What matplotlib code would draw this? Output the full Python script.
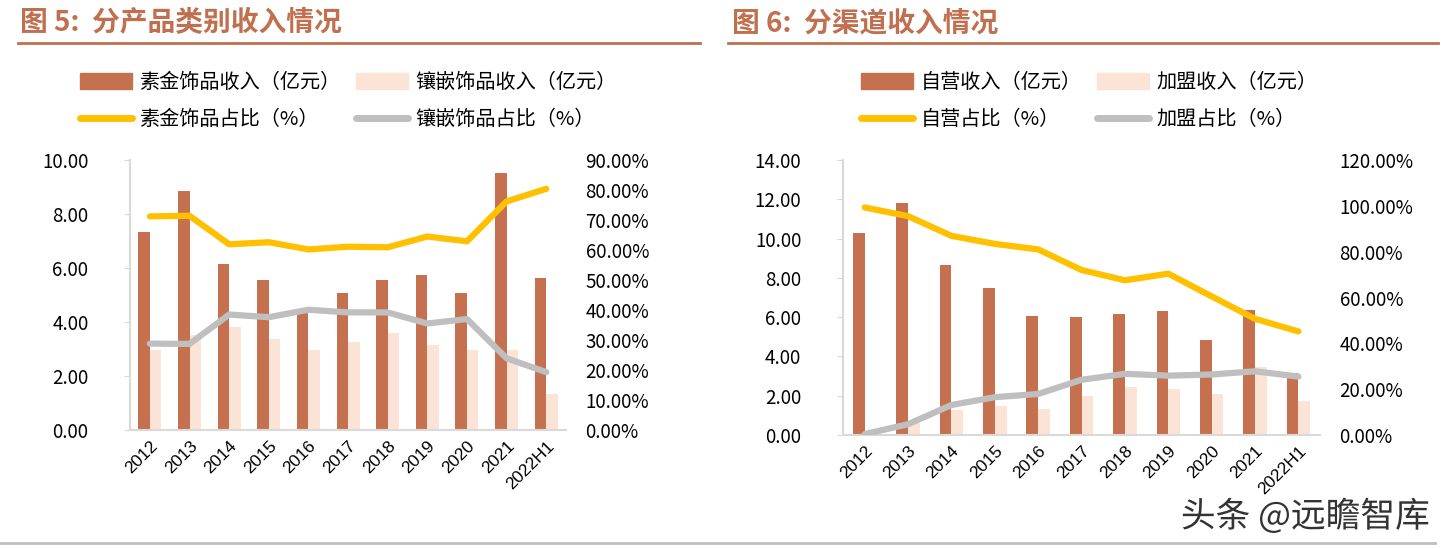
import matplotlib
matplotlib.use("Agg")
import matplotlib.pyplot as plt
from matplotlib.patches import Patch
from matplotlib.lines import Line2D
import matplotlib.patheffects as pe
import numpy as np

plt.rcParams["font.family"] = ["Noto Sans CJK SC", "DejaVu Sans"]

years = ["2012", "2013", "2014", "2015", "2016", "2017", "2018", "2019", "2020", "2021", "2022H1"]

# 图5 分产品类别
plain_rev = [7.35, 8.84, 6.15, 5.57, 4.45, 5.08, 5.55, 5.75, 5.06, 9.53, 5.64]
inlay_rev = [2.96, 3.52, 3.82, 3.36, 2.96, 3.25, 3.60, 3.15, 2.96, 2.96, 1.33]
plain_pct = [71.2, 71.4, 61.9, 62.6, 60.2, 61.1, 60.9, 64.5, 62.9, 76.2, 80.4]
inlay_pct = [28.8, 28.7, 38.5, 37.6, 40.1, 39.2, 39.2, 35.5, 37.0, 23.9, 19.3]

# 图6 分渠道
own_rev = [10.26, 11.80, 8.67, 7.48, 6.05, 5.99, 6.17, 6.29, 4.85, 6.34, 3.16]
fran_rev = [0.05, 0.60, 1.29, 1.46, 1.34, 1.97, 2.43, 2.33, 2.11, 3.45, 1.75]
own_pct = [99.3, 95.5, 86.9, 83.4, 81.0, 72.0, 67.5, 70.4, 60.5, 50.7, 45.2]
fran_pct = [0.4, 4.7, 13.1, 16.5, 17.9, 24.1, 26.7, 25.9, 26.4, 27.8, 25.5]

DARK = "#C5714F"
LIGHT = "#FBE3D6"
YELLOW = "#FFC000"
GRAY = "#BFBFBF"
TITLE = "#C0704F"
SPINE = "#D9D9D9"

fig = plt.figure(figsize=(14.5, 5.48), dpi=100)


def panel(rect, bars1, bars2, pct1, pct2, ymax, ystep, pmax, pstep, w):
    ax = fig.add_axes(rect)
    x = np.arange(len(years))
    ax.bar(x - w / 2, bars1, width=w, color=DARK, zorder=2)
    ax.bar(x + w / 2, bars2, width=w, color=LIGHT, zorder=2)
    ax.set_xlim(-0.5, len(years) - 0.5)
    ax.set_ylim(0, ymax)
    ax.set_yticks(np.arange(0, ymax + 0.01, ystep))
    ax.set_yticklabels([f"{v:.2f}" for v in np.arange(0, ymax + 0.01, ystep)], fontsize=13.5)
    ax.set_xticks(x)
    ax.set_xticklabels(years, rotation=45, ha="right", rotation_mode="anchor",
                       fontsize=12.5, family=["Liberation Sans", "DejaVu Sans"])
    ax.tick_params(axis="x", length=0, pad=6)
    ax.tick_params(axis="y", length=4, color=SPINE, pad=26, direction="out")
    for s in ["top", "right"]:
        ax.spines[s].set_visible(False)
    ax.spines["left"].set_color(SPINE)
    ax.spines["bottom"].set_color(SPINE)
    ax.spines["left"].set_linewidth(1.5)
    ax.spines["bottom"].set_linewidth(1.5)

    ax2 = ax.twinx()
    ax2.plot(x, pct1, color=YELLOW, lw=4.5, solid_capstyle="round", zorder=3)
    ax2.plot(x, pct2, color=GRAY, lw=4.5, solid_capstyle="round", zorder=3)
    ax2.set_ylim(0, pmax)
    pt = np.arange(0, pmax + 0.01, pstep)
    ax2.set_yticks(pt)
    ax2.set_yticklabels([f"{v:.2f}%" for v in pt], fontsize=13.5)
    ax2.tick_params(axis="y", length=0, pad=14)
    for s in ["top", "right", "left", "bottom"]:
        ax2.spines[s].set_visible(False)
    return ax


panel([0.0897, 0.2153, 0.3007, 0.4927], plain_rev, inlay_rev, plain_pct, inlay_pct,
      10, 2, 90, 10, 0.29)
panel([0.5814, 0.2062, 0.329, 0.5018], own_rev, fran_rev, own_pct, fran_pct,
      14, 2, 120, 20, 0.27)

# titles and rules
fig.text(20 / 1450, 1 - 23 / 548, "图 5:  分产品类别收入情况", color=TITLE, fontsize=20,
         fontweight="bold", va="center", ha="left")
fig.text(732 / 1450, 1 - 23 / 548, "图 6:  分渠道收入情况", color=TITLE, fontsize=20,
         fontweight="bold", va="center", ha="left")
fig.add_artist(Line2D([18 / 1450, 700 / 1450], [1 - 43 / 548] * 2, color=TITLE, lw=2))
fig.add_artist(Line2D([728 / 1450, 1438 / 1450], [1 - 43 / 548] * 2, color=TITLE, lw=2))
fig.add_artist(Line2D([0, 1435 / 1450], [1 - 543 / 548] * 2, color="#BFBFBF", lw=2))


def legend(x0, labels):
    handles = [Patch(color=DARK), Line2D([], [], color=YELLOW, lw=5, solid_capstyle="round"),
               Patch(color=LIGHT), Line2D([], [], color=GRAY, lw=5, solid_capstyle="round")]
    fig.legend(handles, [labels[0], labels[2], labels[1], labels[3]], ncol=2,
               loc="upper left", bbox_to_anchor=(x0 / 1450, 1 - 64 / 548),
               frameon=False, fontsize=14.5, handlelength=2.6, handleheight=0.8,
               columnspacing=0.75, labelspacing=0.8, handletextpad=0.35, borderaxespad=0)


legend(72, ["素金饰品收入（亿元）", "镶嵌饰品收入（亿元）", "素金饰品占比（%）", "镶嵌饰品占比（%）"])
legend(853, ["自营收入（亿元）", "加盟收入（亿元）", "自营占比（%）", "加盟占比（%）"])

fig.text(1430 / 1450, 1 - 517 / 548, "头条 @远瞻智库", fontsize=25, color="#333333",
         ha="right", va="center",
         path_effects=[pe.withStroke(linewidth=3, foreground="white")])

fig.savefig("out.png", dpi=100)
